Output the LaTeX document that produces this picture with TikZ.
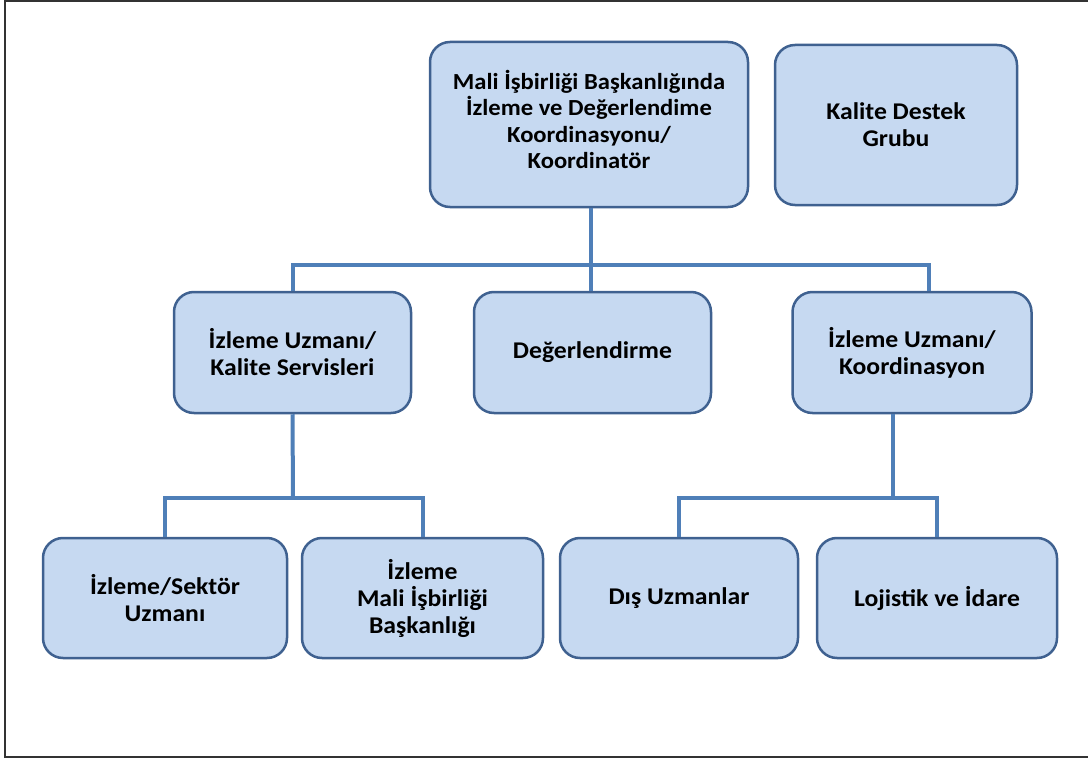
\documentclass[tikz,border=0pt]{standalone}
\usepackage{fontspec}
\setmainfont{Carlito}[FakeStretch=1.07]
\usepackage{tikz}
\usetikzlibrary{positioning}

\definecolor{boxfill}{HTML}{C6D9F1}
\definecolor{boxline}{HTML}{3F6190}
\definecolor{linkblue}{HTML}{4F7FB8}

\tikzset{
    unit/.style={draw=boxline, fill=boxfill, line width=2.5pt, rounded corners=20pt,
                 align=center, inner sep=0pt,
                 font=\bfseries\fontsize{24}{27}\selectfont},
    headunit/.style={unit, font=\bfseries\fontsize{23}{26.5}\selectfont},
    link/.style={draw=linkblue, line width=4pt},
    frame/.style={draw=black!80, line width=2pt}
}

\begin{document}
\begin{tikzpicture}[x=1pt, y=-1pt]
    \useasboundingbox (0,0) rectangle (1088,760);
    \draw [frame] (1090,1) -- (5,1) -- (5,757) -- (1090,757);

    % Nodes {top, side, level 2, level 3}
    \node [headunit, minimum width=318pt, minimum height=165pt] (top)  at (589,124.5)
        {Mali İşbirliği Başkanlığında\\İzleme ve Değerlendime\\Koordinasyonu/\\Koordinatör\\[-16pt]};
    \node [unit, minimum width=242pt, minimum height=160pt] (side) at (896,125)
        {Kalite Destek\\Grubu};

    \node [unit, minimum width=237pt, minimum height=121pt] (l2a)  at (292.5,352.5)
        {İzleme Uzmanı/\\Kalite Servisleri};
    \node [unit, minimum width=237pt, minimum height=121pt] (l2b)  at (592.5,352.5)
        {Değerlendirme};
    \node [unit, minimum width=239pt, minimum height=121pt] (l2c)  at (912,352.5)
        {İzleme Uzmanı/\\Koordinasyon};

    \node [unit, minimum width=244pt, minimum height=120pt] (l3a)  at (165,598)
        {İzleme/Sektör\\Uzmanı};
    \node [unit, minimum width=241pt, minimum height=120pt] (l3b)  at (422.5,598)
        {İzleme\\Mali İşbirliği\\Başkanlığı};
    \node [unit, minimum width=238pt, minimum height=120pt] (l3c)  at (679,598)
        {Dış Uzmanlar};
    \node [unit, minimum width=240pt, minimum height=120pt] (l3d)  at (937,598)
        {Lojistik ve İdare};

    % Bus points
    \coordinate (bus1)  at (591,265);
    \coordinate (bus1r) at (929,265);
    \coordinate (bus2)  at (293,498);
    \coordinate (bus3)  at (893,498);

    % Paths
    \path [link] (bus1 |- top.south)  -- (bus1 |- l2b.north);
    \path [link] (l2a.north)  |- (bus1r) -- (bus1r |- l2c.north);
    \path [link] (l2a.south)  -- (bus2);
    \path [link] (l3a.north)  |- (bus2) -| (l3b.north);
    \path [link] (bus3 |- l2c.south)  -- (bus3);
    \path [link] (l3c.north)  |- (bus3) -| (l3d.north);
\end{tikzpicture}
\end{document}
